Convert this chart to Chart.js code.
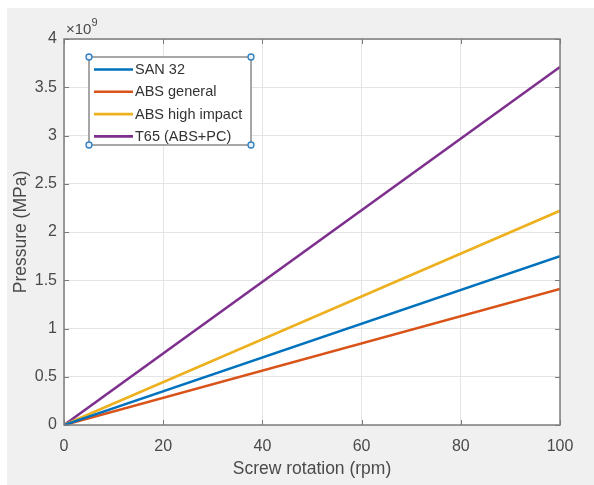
<!DOCTYPE html>
<html>
<head>
<meta charset="utf-8">
<script src="https://cdn.jsdelivr.net/npm/chart.js@4"></script>
<style>
  html, body { margin: 0; padding: 0; background: #ffffff; }
  #wrap { width: 594px; height: 485px; position: relative; }
</style>
</head>
<body>
<div id="wrap"><canvas id="c" width="594" height="485"></canvas></div>
<script>
// Screw rotation (rpm) and pressure for each material
const rpm = [0, 100];
const san32 = [0, 1.75e9];
const absGeneral = [0, 1.41e9];
const absHighImpact = [0, 2.22e9];
const t65 = [0, 3.71e9];

const seriesNames = ['SAN 32', 'ABS general', 'ABS high impact', 'T65 (ABS+PC)'];
const seriesValues = [san32, absGeneral, absHighImpact, t65];
const seriesColors = ['#0072BD', '#D95319', '#EDB120', '#7E2F8E'];

const xTicks = [0, 20, 40, 60, 80, 100];
const yTicks = [0, 0.5e9, 1e9, 1.5e9, 2e9, 2.5e9, 3e9, 3.5e9, 4e9];
const yExponent = 9;

const FONT = '"Liberation Sans", Arial, Helvetica, sans-serif';
const TEXT = '#4a4a4a';
const AXIS = '#7c7c7c';

const datasets = seriesNames.map((name, i) => ({
  label: name,
  data: rpm.map((r, j) => ({ x: r, y: seriesValues[i][j] })),
  borderColor: seriesColors[i],
  backgroundColor: seriesColors[i],
  borderWidth: 2.6,
  pointRadius: 0,
  fill: false,
  tension: 0
}));

// Figure background, axes box, inward ticks, exponent label and the legend
const figurePlugin = {
  id: 'figure',
  beforeDraw(chart) {
    const ctx = chart.ctx;
    const a = chart.chartArea;
    ctx.save();
    ctx.fillStyle = '#ffffff';
    ctx.fillRect(0, 0, chart.width, chart.height);
    ctx.fillStyle = '#f0f0f0';
    ctx.fillRect(7, 8, chart.width - 7, chart.height - 8);
    ctx.fillStyle = '#ffffff';
    ctx.fillRect(a.left, a.top, a.right - a.left, a.bottom - a.top);
    ctx.restore();
  },
  afterDraw(chart) {
    const ctx = chart.ctx;
    const a = chart.chartArea;
    const xs = chart.scales.x, ys = chart.scales.y;
    ctx.save();
    ctx.strokeStyle = AXIS;
    ctx.lineWidth = 1.5;
    ctx.strokeRect(a.left, a.top, a.right - a.left, a.bottom - a.top);
    ctx.lineWidth = 1;
    const tl = 5;
    ctx.beginPath();
    xTicks.forEach(v => {
      const px = Math.round(xs.getPixelForValue(v)) + 0.5;
      ctx.moveTo(px, a.bottom); ctx.lineTo(px, a.bottom - tl);
      ctx.moveTo(px, a.top); ctx.lineTo(px, a.top + tl);
    });
    yTicks.forEach(v => {
      const py = Math.round(ys.getPixelForValue(v)) + 0.5;
      ctx.moveTo(a.left, py); ctx.lineTo(a.left + tl, py);
      ctx.moveTo(a.right, py); ctx.lineTo(a.right - tl, py);
    });
    ctx.stroke();

    // exponent label
    ctx.fillStyle = TEXT;
    ctx.textBaseline = 'alphabetic';
    ctx.textAlign = 'left';
    ctx.font = '15px ' + FONT;
    ctx.fillText('\u00d710', a.left + 2, a.top - 5);
    const w = ctx.measureText('\u00d710').width;
    ctx.font = '11px ' + FONT;
    ctx.fillText(String(yExponent), a.left + 2 + w, a.top - 13);

    // legend
    const lx = 89, ly = 57, lw = 162, lh = 88;
    ctx.fillStyle = '#ffffff';
    ctx.fillRect(lx, ly, lw, lh);
    ctx.strokeStyle = '#8a8a8a';
    ctx.lineWidth = 1.5;
    ctx.strokeRect(lx, ly, lw, lh);
    ctx.font = '14.5px ' + FONT;
    ctx.textBaseline = 'middle';
    chart.data.datasets.forEach((ds, i) => {
      const y = ly + 12.5 + i * 22.3;
      ctx.strokeStyle = ds.borderColor;
      ctx.lineWidth = 2.6;
      ctx.beginPath();
      ctx.moveTo(lx + 5, y);
      ctx.lineTo(lx + 44, y);
      ctx.stroke();
      ctx.fillStyle = '#333333';
      ctx.fillText(ds.label, lx + 46, y + 0.5);
    });
    // selection handles at the legend corners
    ctx.strokeStyle = '#2f7fc1';
    ctx.fillStyle = '#e8f1fa';
    ctx.lineWidth = 1.3;
    [[lx, ly], [lx + lw, ly], [lx, ly + lh], [lx + lw, ly + lh]].forEach(([hx, hy]) => {
      ctx.beginPath();
      ctx.arc(hx, hy, 3, 0, Math.PI * 2);
      ctx.fill();
      ctx.stroke();
    });
    ctx.restore();
  }
};

new Chart(document.getElementById('c'), {
  type: 'line',
  data: { datasets },
  plugins: [figurePlugin],
  options: {
    responsive: false,
    animation: false,
    devicePixelRatio: 1,
    layout: { padding: { left: 0, top: 39, right: 34, bottom: 0 } },
    plugins: { legend: { display: false }, tooltip: { enabled: false } },
    scales: {
      x: {
        type: 'linear',
        min: 0, max: 100,
        afterBuildTicks: s => { s.ticks = xTicks.map(v => ({ value: v })); },
        afterFit: s => { s.height = 60; },
        grid: { color: '#e4e4e4', lineWidth: 1, drawTicks: false },
        border: { display: false },
        ticks: { color: TEXT, font: { family: FONT, size: 16 }, padding: 12, maxRotation: 0 },
        title: { display: true, text: 'Screw rotation (rpm)', color: TEXT, font: { family: FONT, size: 17.5 }, padding: { top: 2, bottom: 5 } }
      },
      y: {
        type: 'linear',
        min: 0, max: 4e9,
        afterBuildTicks: s => { s.ticks = yTicks.map(v => ({ value: v })); },
        afterFit: s => { s.width = 64; },
        grid: { color: '#e4e4e4', lineWidth: 1, drawTicks: false },
        border: { display: false },
        ticks: {
          color: TEXT, font: { family: FONT, size: 16 }, padding: 7,
          callback: v => String(v / Math.pow(10, yExponent))
        },
        title: { display: true, text: 'Pressure (MPa)', color: TEXT, font: { family: FONT, size: 17.5 }, padding: { top: 11, bottom: 0 } }
      }
    }
  }
});
</script>
</body>
</html>
